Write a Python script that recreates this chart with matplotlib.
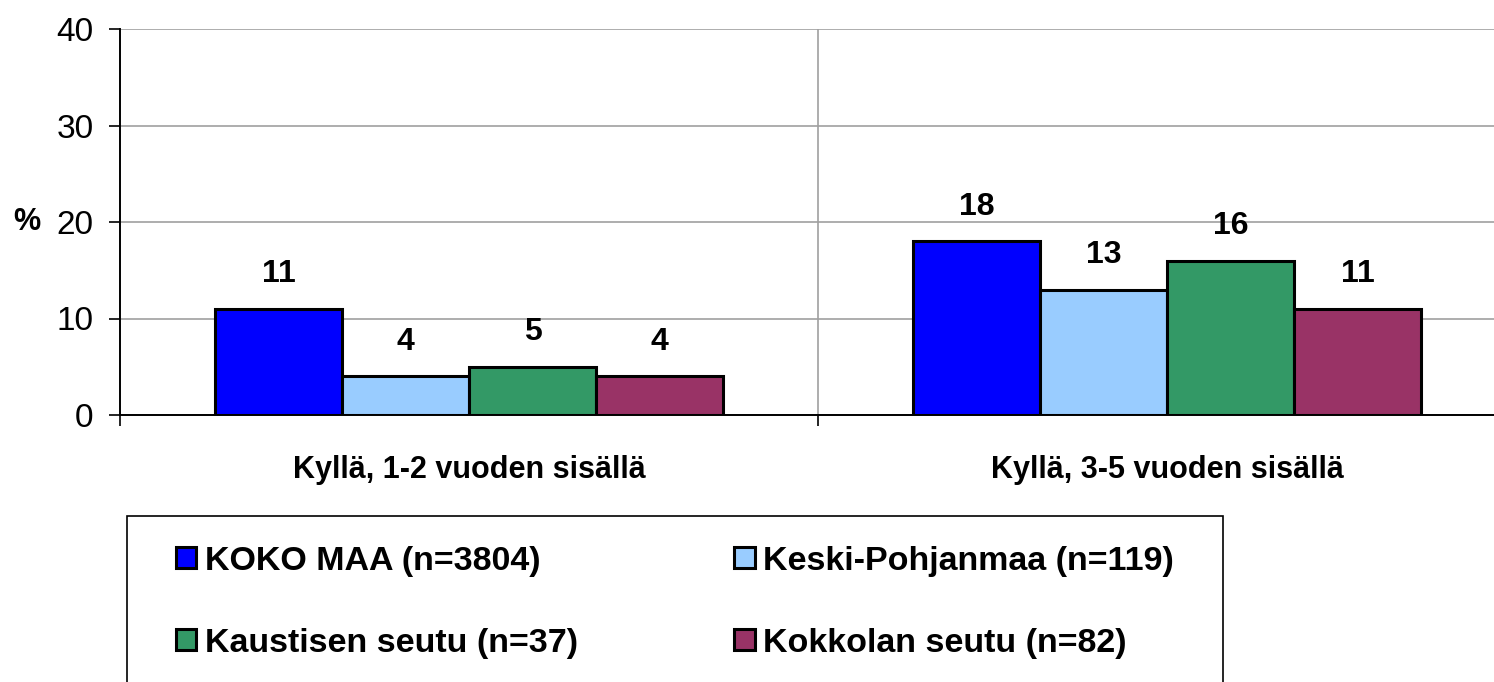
import numpy as np
import matplotlib.pyplot as plt
from matplotlib.patches import Rectangle

plt.rcParams['font.family'] = ['Liberation Sans', 'DejaVu Sans']

categories = ['Kyllä, 1-2 vuoden sisällä', 'Kyllä, 3-5 vuoden sisällä']
series = ['KOKO MAA (n=3804)', 'Keski-Pohjanmaa (n=119)',
          'Kaustisen seutu (n=37)', 'Kokkolan seutu (n=82)']
values = [
    [11, 18],
    [4, 13],
    [5, 16],
    [4, 11],
]
colors = ['#0000FF', '#99CCFF', '#339966', '#993366']
yticks = [0, 10, 20, 30, 40]

fig = plt.figure(figsize=(14.94, 6.82), dpi=100)
ax = fig.add_axes([120 / 1494, 1 - 415 / 682, 1 - 120 / 1494, (415 - 29) / 682])

x = np.arange(len(categories))
width = 0.182
handles = []
for i, (name, vals) in enumerate(zip(series, values)):
    pos = x + (i - 1.5) * width
    b = ax.bar(pos, vals, width, color=colors[i], edgecolor='black',
               linewidth=2.2, label=name, zorder=3)
    handles.append(b)
    for p, v in zip(pos, vals):
        ax.annotate(str(v), (p, v), xytext=(0, 14), textcoords='offset points',
                    ha='center', va='bottom', fontsize=23, fontweight='bold')

ax.set_xlim(-0.5, 0.5 + (1494 - 818) / 698)
ax.set_ylim(0, 40)
ax.set_yticks(yticks)
ax.tick_params(axis='y', labelsize=24, length=8, width=1.2, pad=11)
ax.yaxis.grid(True, color='#A0A0A0', linewidth=1.2, zorder=0)
ax.axvline(0.5, color='#A0A0A0', linewidth=1.2, zorder=0)

ax.set_xticks(x)
ax.set_xticklabels(categories, fontsize=22, fontweight='bold')
ax.tick_params(axis='x', length=0, pad=29)
ax.set_xticks([-0.5, 0.5], minor=True)
ax.tick_params(axis='x', which='minor', length=8, width=1.2, direction='out')

for s in ['top', 'right']:
    ax.spines[s].set_visible(False)
ax.spines['left'].set_linewidth(1.4)
ax.spines['bottom'].set_linewidth(1.4)

ax.set_ylabel('%', rotation=0, fontsize=22, fontweight='bold', va='center')
ax.yaxis.set_label_coords(-0.068, 0.5)

# legend frame, running off the bottom edge
fig.patches.append(Rectangle((127 / 1494, -0.05), (1223 - 127) / 1494,
                             1 - 516 / 682 + 0.05, transform=fig.transFigure,
                             fill=False, edgecolor='black', linewidth=1.2))
order = [0, 2, 1, 3]
fig.legend(handles=[handles[k] for k in order], loc='upper left', ncol=2,
           frameon=False, bbox_to_anchor=(145 / 1494, 1 - 515 / 682),
           prop={'size': 24.5, 'weight': 'bold'},
           handlelength=0.6, handleheight=0.6, handletextpad=0.25,
           columnspacing=4.6, labelspacing=1.5)

fig.savefig('out.png', dpi=100)
